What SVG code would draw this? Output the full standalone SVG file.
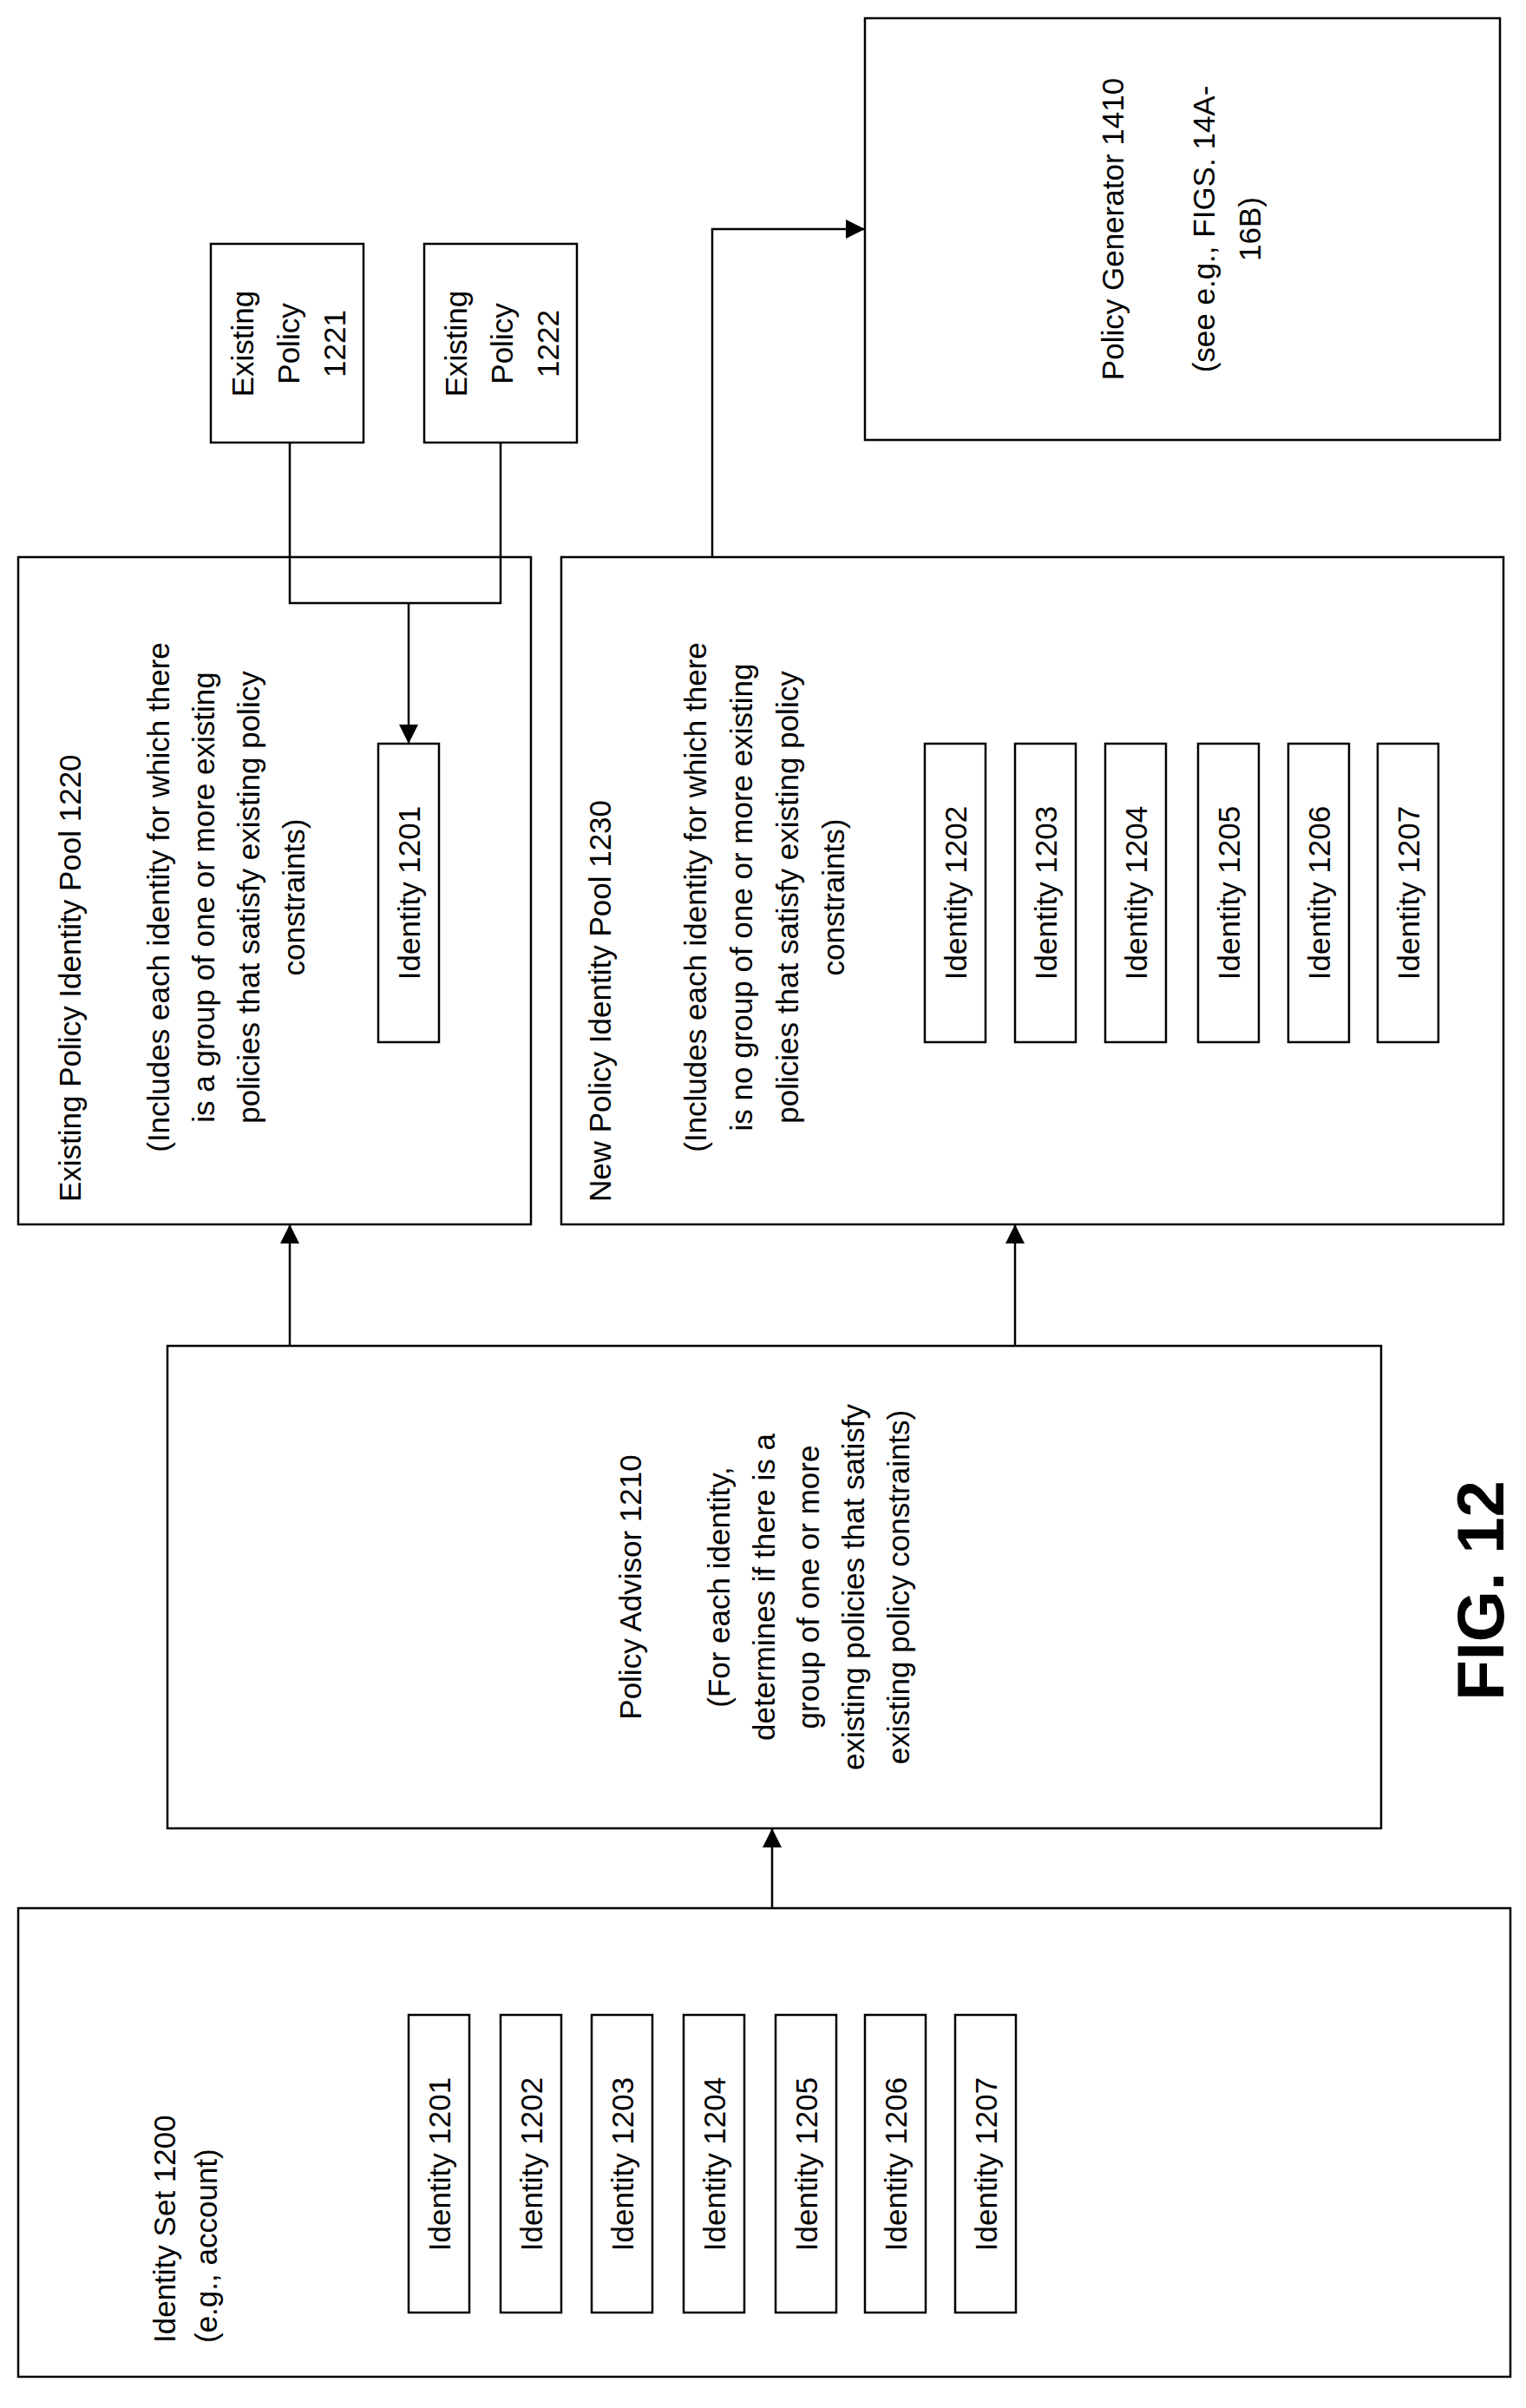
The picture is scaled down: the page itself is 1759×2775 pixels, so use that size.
<svg xmlns="http://www.w3.org/2000/svg" width="1759" height="2775" viewBox="0 0 1759 2775">
<style>
rect{fill:#fff;stroke:#000;stroke-width:2.5}
text{font-family:"Liberation Sans",Arial,sans-serif;font-size:35px;fill:#000}
.c{text-anchor:middle}
.m{text-anchor:middle;dominant-baseline:central}
.l{fill:none;stroke:#000;stroke-width:2.5}
</style>
<defs><marker id="b" markerWidth="22" markerHeight="22" refX="22" refY="11" orient="auto" markerUnits="userSpaceOnUse"><path d="M0,0 L22,11 L0,22 z" fill="#000"/></marker></defs>
<g id="identity-set">
<rect x="21" y="2199" width="1720" height="540"/>
<text transform="translate(202,2700) rotate(-90)">Identity Set 1200</text>
<text transform="translate(250,2700) rotate(-90)">(e.g., account)</text>
<rect x="471" y="2322" width="70" height="343"/><text class="m" transform="translate(506,2494) rotate(-90)">Identity 1201</text>
<rect x="577" y="2322" width="70" height="343"/><text class="m" transform="translate(612,2494) rotate(-90)">Identity 1202</text>
<rect x="682" y="2322" width="70" height="343"/><text class="m" transform="translate(717,2494) rotate(-90)">Identity 1203</text>
<rect x="788" y="2322" width="70" height="343"/><text class="m" transform="translate(823,2494) rotate(-90)">Identity 1204</text>
<rect x="894" y="2322" width="70" height="343"/><text class="m" transform="translate(929,2494) rotate(-90)">Identity 1205</text>
<rect x="997" y="2322" width="70" height="343"/><text class="m" transform="translate(1032,2494) rotate(-90)">Identity 1206</text>
<rect x="1101" y="2322" width="70" height="343"/><text class="m" transform="translate(1136,2494) rotate(-90)">Identity 1207</text>
</g>
<g id="policy-advisor">
<rect x="193" y="1551" width="1399" height="556"/>
<text class="c" transform="translate(739,1829) rotate(-90)">Policy Advisor 1210</text>
<text class="c" transform="translate(841,1829) rotate(-90)">(For each identity,</text>
<text class="c" transform="translate(893,1829) rotate(-90)">determines if there is a</text>
<text class="c" transform="translate(944,1829) rotate(-90)">group of one or more</text>
<text class="c" transform="translate(996,1829) rotate(-90)">existing policies that satisfy</text>
<text class="c" transform="translate(1048,1829) rotate(-90)">existing policy constraints)</text>
</g>
<g id="existing-pool">
<rect x="21" y="642" width="591" height="769"/>
<text transform="translate(93,1385) rotate(-90)">Existing Policy Identity Pool 1220</text>
<text class="c" transform="translate(195,1034) rotate(-90)">(Includes each identity for which there</text>
<text class="c" transform="translate(247,1034) rotate(-90)">is a group of one or more existing</text>
<text class="c" transform="translate(299,1034) rotate(-90)">policies that satisfy existing policy</text>
<text class="c" transform="translate(351,1034) rotate(-90)">constraints)</text>
<rect x="436" y="857" width="70" height="344"/><text class="m" transform="translate(471,1029) rotate(-90)">Identity 1201</text>
</g>
<g id="new-pool">
<rect x="647" y="642" width="1086" height="769"/>
<text transform="translate(704,1385) rotate(-90)">New Policy Identity Pool 1230</text>
<text class="c" transform="translate(814,1034) rotate(-90)">(Includes each identity for which there</text>
<text class="c" transform="translate(867,1034) rotate(-90)">is no group of one or more existing</text>
<text class="c" transform="translate(920,1034) rotate(-90)">policies that satisfy existing policy</text>
<text class="c" transform="translate(973,1034) rotate(-90)">constraints)</text>
<rect x="1066" y="857" width="70" height="344"/><text class="m" transform="translate(1101,1029) rotate(-90)">Identity 1202</text>
<rect x="1170" y="857" width="70" height="344"/><text class="m" transform="translate(1205,1029) rotate(-90)">Identity 1203</text>
<rect x="1274" y="857" width="70" height="344"/><text class="m" transform="translate(1309,1029) rotate(-90)">Identity 1204</text>
<rect x="1381" y="857" width="70" height="344"/><text class="m" transform="translate(1416,1029) rotate(-90)">Identity 1205</text>
<rect x="1485" y="857" width="70" height="344"/><text class="m" transform="translate(1520,1029) rotate(-90)">Identity 1206</text>
<rect x="1588" y="857" width="70" height="344"/><text class="m" transform="translate(1623,1029) rotate(-90)">Identity 1207</text>
</g>
<g id="policy-generator">
<rect x="997" y="21" width="732" height="486"/>
<text class="c" transform="translate(1295,264) rotate(-90)">Policy Generator 1410</text>
<text class="c" transform="translate(1400,264) rotate(-90)">(see e.g., FIGS. 14A-</text>
<text class="c" transform="translate(1453,264) rotate(-90)">16B)</text>
</g>
<g id="existing-policy-1221">
<rect x="243" y="281" width="176" height="229"/>
<text class="c" transform="translate(292,396) rotate(-90)">Existing</text>
<text class="c" transform="translate(345,396) rotate(-90)">Policy</text>
<text class="c" transform="translate(398,396) rotate(-90)">1221</text>
</g>
<g id="existing-policy-1222">
<rect x="489" y="281" width="176" height="229"/>
<text class="c" transform="translate(538,396) rotate(-90)">Existing</text>
<text class="c" transform="translate(591,396) rotate(-90)">Policy</text>
<text class="c" transform="translate(644,396) rotate(-90)">1222</text>
</g>
<g id="connectors">
<line class="l" x1="890" y1="2199" x2="890" y2="2107" marker-end="url(#b)"/>
<line class="l" x1="334" y1="1551" x2="334" y2="1411" marker-end="url(#b)"/>
<line class="l" x1="1170" y1="1551" x2="1170" y2="1411" marker-end="url(#b)"/>
<polyline class="l" points="334,510 334,695 577,695 577,510"/>
<line class="l" x1="471" y1="695" x2="471" y2="857" marker-end="url(#b)"/>
<polyline class="l" points="821,642 821,264 997,264" marker-end="url(#b)"/>
</g>
<text transform="translate(1733,1833) rotate(-90)" class="c" style="font-size:76px;font-weight:bold">FIG. 12</text>
</svg>
